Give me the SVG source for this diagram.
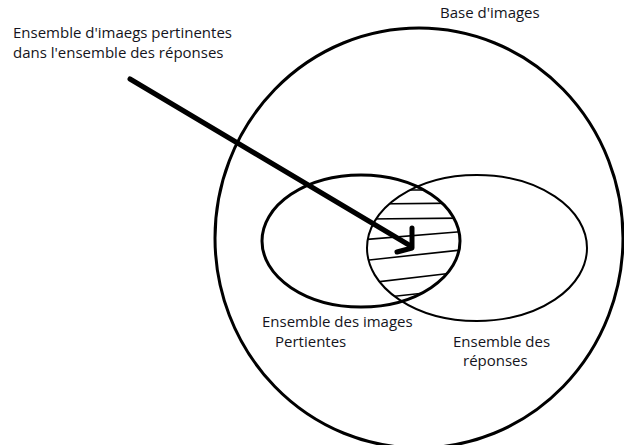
<svg xmlns="http://www.w3.org/2000/svg" width="624" height="445" viewBox="0 0 624 445">
<style>
text{font-family:"Open Sans","Noto Sans","DejaVu Sans",sans-serif;font-size:15px;fill:#141420}
.set{fill:none;stroke:#000}
.hatch{stroke:#000;stroke-width:1.6;fill:none}
.conn{fill:none;stroke:#000;stroke-width:5;stroke-linecap:round;stroke-linejoin:round}
</style>
<defs>
<clipPath id="cpL"><ellipse cx="361" cy="241" rx="99" ry="66"/></clipPath>
<clipPath id="cpR"><ellipse cx="477" cy="248" rx="110" ry="73"/></clipPath>
</defs>
<rect width="624" height="445" fill="#fff"/>
<g id="base">
<ellipse class="set" cx="419" cy="238" rx="204" ry="210" stroke-width="3"/>
<text x="440" y="18">Base d'images</text>
</g>
<g id="hatching" clip-path="url(#cpL)">
<g clip-path="url(#cpR)">
<line class="hatch" x1="360" y1="190" x2="470" y2="190"/>
<line class="hatch" x1="360" y1="204" x2="470" y2="203"/>
<line class="hatch" x1="360" y1="219" x2="470" y2="218"/>
<line class="hatch" x1="360" y1="240" x2="470" y2="231"/>
<line class="hatch" x1="360" y1="261" x2="470" y2="249"/>
<line class="hatch" x1="360" y1="284" x2="470" y2="271"/>
<line class="hatch" x1="360" y1="300" x2="470" y2="288"/>
</g>
</g>
<g id="pertinentes">
<ellipse class="set" cx="361" cy="241" rx="99" ry="66" stroke-width="3"/>
<text x="262" y="327">Ensemble des images</text>
<text x="275" y="347">Pertientes</text>
</g>
<g id="reponses">
<ellipse class="set" cx="477" cy="248" rx="110" ry="73" stroke-width="2"/>
<text x="453" y="347">Ensemble des</text>
<text x="463" y="366">réponses</text>
</g>
<g id="label">
<text x="13" y="38">Ensemble d'imaegs pertinentes</text>
<text x="13" y="58">dans l'ensemble des réponses</text>
</g>
<g id="connectors">
<path class="conn" d="M130,79 L409,245"/>
<path class="conn" d="M412,228 L412,248 L397,252"/>
</g>
</svg>
